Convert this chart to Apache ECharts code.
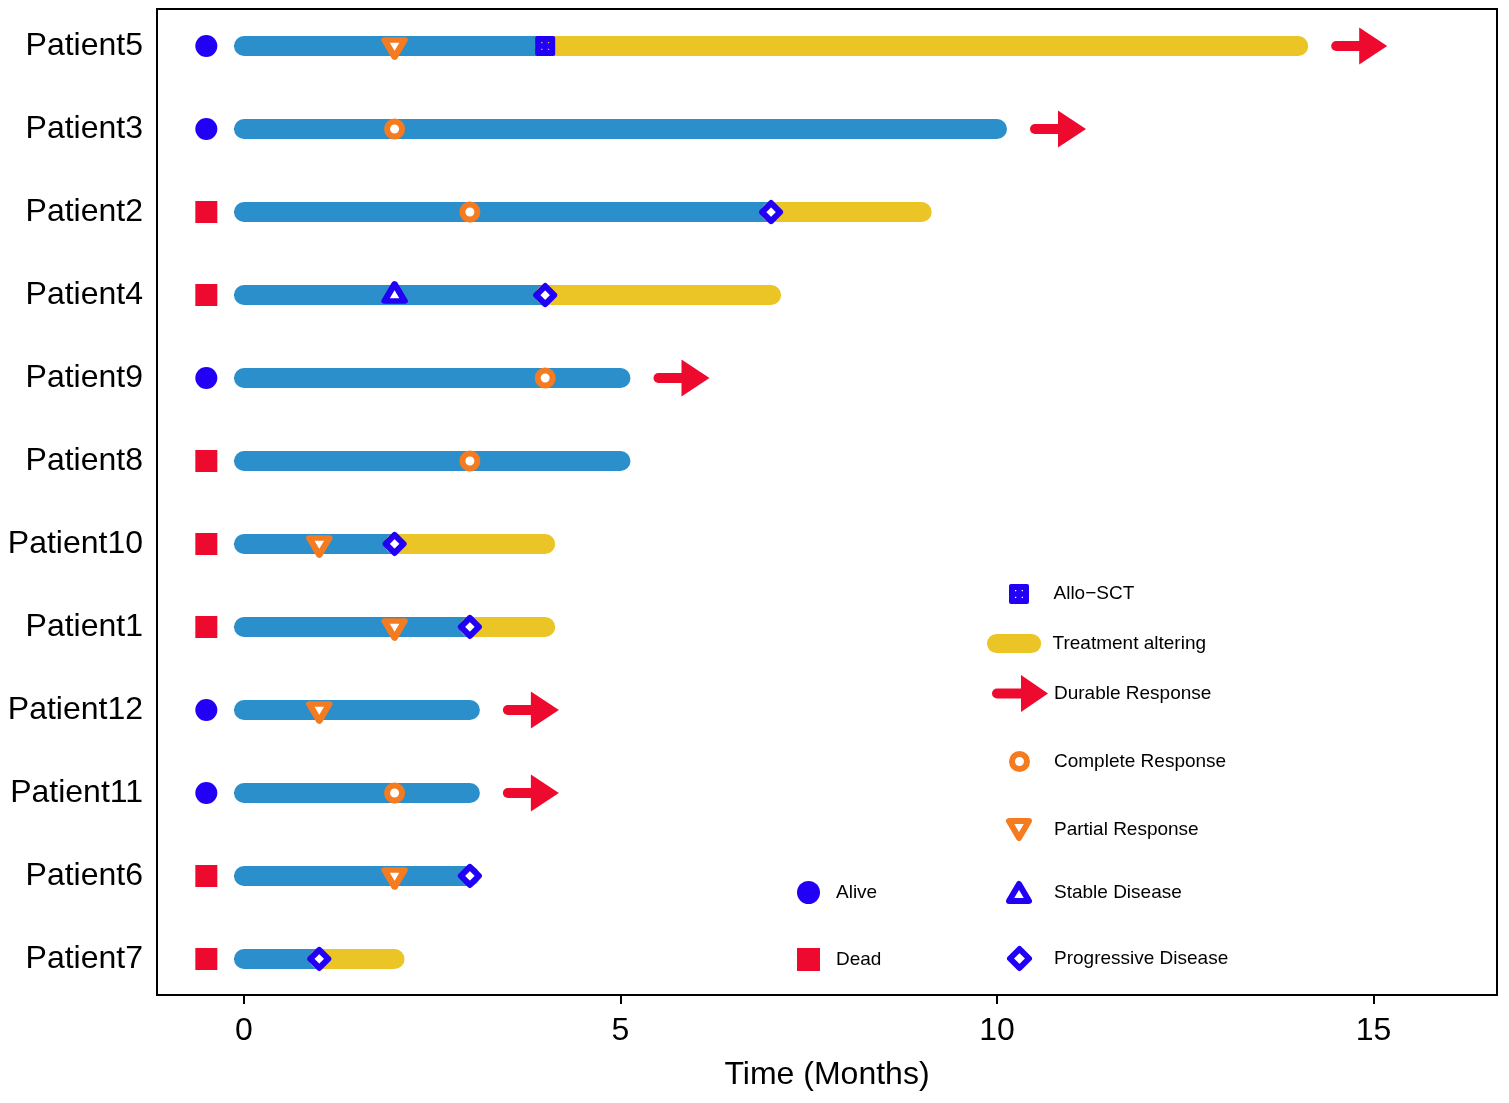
<!DOCTYPE html>
<html><head><meta charset="utf-8">
<script src="https://cdn.jsdelivr.net/npm/echarts@6/dist/echarts.min.js"></script>
<style>html,body{margin:0;padding:0;background:#fff}#c{width:1509px;height:1103px}</style>
</head><body><div id="c"></div>
<script>
// ---------------- data ----------------
const patients = ['Patient5','Patient3','Patient2','Patient4','Patient9','Patient8','Patient10','Patient1','Patient12','Patient11','Patient6','Patient7'];
const totalMonths = [14, 10, 9, 7, 5, 5, 4, 4, 3, 3, 3, 2];
const alteringStart = [4, null, 7, 4, null, null, 2, 3, null, null, null, 1];
const vitalStatus = ['Alive','Alive','Dead','Dead','Alive','Dead','Dead','Dead','Alive','Alive','Dead','Dead'];
const durableResponse = [true, true, false, false, true, false, false, false, true, true, false, false];
const alloSCT = [4, null, null, null, null, null, null, null, null, null, null, null];
const completeResponse = [null, 2, 3, null, 4, 3, null, null, null, 2, null, null];
const partialResponse = [2, null, null, null, null, null, 1, 2, 1, null, 2, null];
const stableDisease = [null, null, null, 2, null, null, null, null, null, null, null, null];
const progressiveDisease = [null, null, 7, 4, null, null, 2, 3, null, null, 3, 1];
const xTicks = [0, 5, 10, 15];
const rowTicks = patients.map((p, i) => i + 1);
const STATUS_X = -0.5;

// ---------------- style ----------------
const FONT = 'Liberation Sans, Arial, sans-serif';
const C_BAR = '#2A8FCA', C_YEL = '#EBC425', C_RED = '#EE0A2E', C_ORG = '#F47B20', C_BLU = '#2200F5';
const P_DOWN = 'path://M0,0 L20,0 L10,17 Z';
const P_UP = 'path://M10,0 L20,17 L0,17 Z';
const P_DIAM = 'path://M10,0 L20,10 L10,20 L0,10 Z';
const P_CIRC = 'path://M0,10 A10,10 0 1 1 20,10 A10,10 0 1 1 0,10 Z';
const P_RECT = 'path://M0,0 L20,0 L20,20 L0,20 Z';
const P_ALLO = 'path://M2,0 L18,0 Q20,0 20,2 L20,18 Q20,20 18,20 L2,20 Q0,20 0,18 L0,2 Q0,0 2,0 Z ' +
  'M6,6 L6,7.3 L7.3,7.3 L7.3,6 Z M12.7,6 L12.7,7.3 L14,7.3 L14,6 Z M6,12.7 L6,14 L7.3,14 L7.3,12.7 Z M12.7,12.7 L12.7,14 L14,14 L14,12.7 Z';
const P_PILL = 'path://M10,0 L47,0 A10,10 0 0 1 47,20 L10,20 A10,10 0 0 1 10,0 Z';
const P_ARROW = 'path://M5,13.5 L29,13.5 L29,0 L56,18.5 L29,37 L29,23.5 L5,23.5 A5,5 0 0 1 5,13.5 Z';

const pts = arr => arr.map((v, i) => v == null ? null : [v, i + 1]).filter(Boolean);

const blueBars = patients.map((p, i) => [0, alteringStart[i] != null ? alteringStart[i] : totalMonths[i], i + 1]);
const yellowBars = patients.map((p, i) => alteringStart[i] != null ? [alteringStart[i], totalMonths[i], i + 1] : null).filter(Boolean);
const arrows = patients.map((p, i) => durableResponse[i] ? [totalMonths[i], i + 1] : null).filter(Boolean);
const alive = patients.map((p, i) => vitalStatus[i] === 'Alive' ? [STATUS_X, i + 1] : null).filter(Boolean);
const dead = patients.map((p, i) => vitalStatus[i] === 'Dead' ? [STATUS_X, i + 1] : null).filter(Boolean);

function barRender(color) {
  return function (params, api) {
    const a = api.coord([api.value(0), api.value(2)]);
    const b = api.coord([api.value(1), api.value(2)]);
    return { type: 'line', shape: { x1: a[0], y1: a[1], x2: b[0], y2: b[1] },
      style: { stroke: color, lineWidth: 20, lineCap: 'round' } };
  };
}

function legendItem(name, icon, bbox, lw, textX, itemStyle) {
  // bbox: [x0, y0, x1, y1] visual extents (including stroke)
  const cx = (bbox[0] + bbox[2]) / 2;
  const h = (bbox[3] - bbox[1]) - lw;
  const w = 2 * (textX - 5 - cx);
  return {
    show: true, orient: 'vertical', padding: 0,
    left: bbox[0], top: bbox[1],
    itemWidth: w, itemHeight: h, symbolKeepAspect: true,
    textStyle: { fontSize: 19, fontFamily: FONT, color: '#000', lineHeight: 8 },
    data: [{ name: name, icon: icon, itemStyle: itemStyle }]
  };
}

const option = {
  animation: false,
  backgroundColor: '#fff',
  grid: { left: 157, top: 9, width: 1340, height: 986, show: true, borderColor: '#000', borderWidth: 2, backgroundColor: 'transparent' },
  xAxis: {
    type: 'value', min: -1.155, max: 16.64,
    name: 'Time (Months)', nameLocation: 'middle', nameGap: 64,
    nameTextStyle: { fontSize: 32, fontFamily: FONT, color: '#000' },
    axisLine: { show: false },
    axisTick: { show: true, length: 9, customValues: xTicks, lineStyle: { color: '#000', width: 2 } },
    axisLabel: { customValues: xTicks, fontSize: 32, fontFamily: FONT, color: '#000', margin: 20 },
    splitLine: { show: false }
  },
  yAxis: {
    type: 'value', inverse: true, min: 0.554, max: 12.434,
    axisLine: { show: false },
    axisTick: { show: true, length: 10, customValues: rowTicks, lineStyle: { color: '#000', width: 2 } },
    axisLabel: { customValues: rowTicks, fontSize: 32, fontFamily: FONT, color: '#000', margin: 14, padding: [4, 0, 0, 0],
      formatter: v => patients[Math.round(v) - 1] || '' },
    splitLine: { show: false }
  },
  legend: [
    legendItem('Allo\u2212SCT', P_ALLO, [1009, 584, 1030, 604], 0, 1054, { color: C_BLU, borderWidth: 0 }),
    legendItem('Treatment altering', P_PILL, [987, 634, 1044, 653], 0, 1054, { color: C_YEL, borderWidth: 0 }),
    legendItem('Durable Response', P_ARROW, [992, 675, 1048, 712], 0, 1054, { color: C_RED, borderWidth: 0 }),
    legendItem('Complete Response', P_CIRC, [1009, 751, 1030, 772], 6, 1054, { color: '#fff', borderColor: C_ORG, borderWidth: 6 }),
    legendItem('Partial Response', P_DOWN, [1006, 818, 1032, 841], 6, 1054, { color: '#fff', borderColor: C_ORG, borderWidth: 6, borderJoin: 'round' }),
    legendItem('Stable Disease', P_UP, [1006, 881, 1032, 904], 6, 1054, { color: '#fff', borderColor: C_BLU, borderWidth: 6, borderJoin: 'round' }),
    legendItem('Progressive Disease', P_DIAM, [1007, 946, 1032, 971], 6, 1054, { color: '#fff', borderColor: C_BLU, borderWidth: 6, borderJoin: 'round' }),
    legendItem('Alive', P_CIRC, [797, 881, 820, 904], 0, 836, { color: C_BLU, borderWidth: 0 }),
    legendItem('Dead', P_RECT, [797, 948, 820, 971], 0, 836, { color: C_RED, borderWidth: 0 })
  ],
  series: [
    { name: 'Treatment', type: 'custom', renderItem: barRender(C_BAR), data: blueBars, encode: { x: [0, 1], y: 2 }, z: 1, itemStyle: { color: C_BAR } },
    { name: 'Treatment altering', type: 'custom', renderItem: barRender(C_YEL), data: yellowBars, encode: { x: [0, 1], y: 2 }, z: 2, itemStyle: { color: C_YEL } },
    { name: 'Durable Response', type: 'custom', data: arrows, encode: { x: 0, y: 1 }, z: 2, itemStyle: { color: C_RED },
      renderItem: function (params, api) {
        const p = api.coord([api.value(0), api.value(1)]);
        const x0 = p[0], y = p[1];
        return { type: 'group', children: [
          { type: 'line', shape: { x1: x0 + 38, y1: y, x2: x0 + 63, y2: y }, style: { stroke: C_RED, lineWidth: 10, lineCap: 'round' } },
          { type: 'polygon', shape: { points: [[x0 + 61, y - 18.5], [x0 + 89, y], [x0 + 61, y + 18.5]] }, style: { fill: C_RED } }
        ] };
      } },
    { name: 'Alive', type: 'scatter', data: alive, symbol: 'circle', symbolSize: 22, itemStyle: { color: C_BLU, opacity: 1 }, z: 5 },
    { name: 'Dead', type: 'scatter', data: dead, symbol: 'rect', symbolSize: 22, itemStyle: { color: C_RED, opacity: 1 }, z: 5 },
    { name: 'Allo\u2212SCT', type: 'scatter', data: pts(alloSCT), symbol: P_ALLO, symbolSize: 20, itemStyle: { color: C_BLU, opacity: 1 }, z: 5 },
    { name: 'Complete Response', type: 'scatter', data: pts(completeResponse), symbol: 'circle', symbolSize: 15,
      itemStyle: { color: '#fff', borderColor: C_ORG, borderWidth: 6, opacity: 1 }, z: 5 },
    { name: 'Partial Response', type: 'scatter', data: pts(partialResponse), symbol: P_DOWN, symbolSize: [20, 17], symbolOffset: [0, 2.5],
      itemStyle: { color: '#fff', borderColor: C_ORG, borderWidth: 6, borderJoin: 'round', opacity: 1 }, z: 5 },
    { name: 'Stable Disease', type: 'scatter', data: pts(stableDisease), symbol: P_UP, symbolSize: [20, 17], symbolOffset: [0, -2.5],
      itemStyle: { color: '#fff', borderColor: C_BLU, borderWidth: 6, borderJoin: 'round', opacity: 1 }, z: 5 },
    { name: 'Progressive Disease', type: 'scatter', data: pts(progressiveDisease), symbol: P_DIAM, symbolSize: 18,
      itemStyle: { color: '#fff', borderColor: C_BLU, borderWidth: 6, borderJoin: 'round', opacity: 1 }, z: 5 }
  ]
};

const chart = echarts.init(document.getElementById('c'), null, { renderer: 'canvas' });
chart.setOption(option);
</script>
</body></html>
